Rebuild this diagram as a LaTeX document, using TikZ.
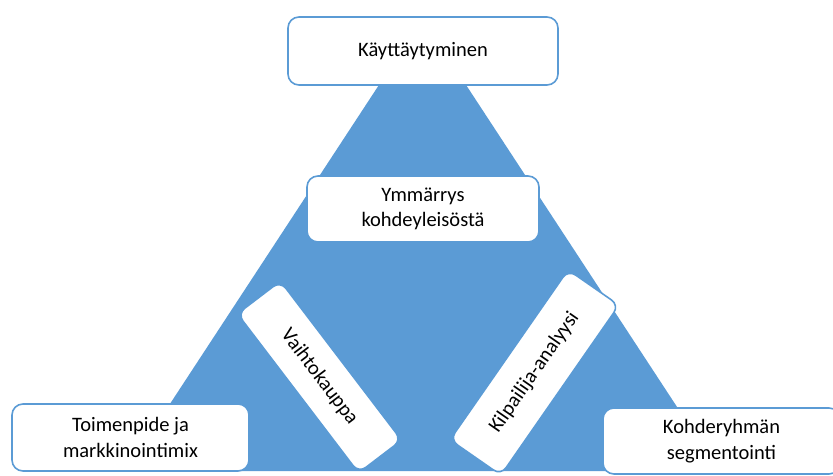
\documentclass[tikz,border=0pt]{standalone}
\usepackage{fontspec}
\setmainfont{Carlito}
\definecolor{officeblue}{RGB}{91,155,213}
\begin{document}
\begin{tikzpicture}[x=1pt,y=-1pt,
  card/.style={draw=officeblue, line width=1.6pt, fill=white, rounded corners=11pt,
    align=center, inner sep=0pt, font=\fontsize{20.5}{25.5}\selectfont},
  tiltcard/.style={card, rounded corners=9pt}]
\useasboundingbox (0,0) rectangle (833,476);
% the blue triangle behind the cards
\coordinate (apex) at (422.5,18.5);
\coordinate (baseL) at (126,471);
\coordinate (baseR) at (719,471);
\fill[officeblue] (apex) -- (baseL) -- (baseR) -- cycle;
% cards
\node[card, minimum width=270pt, minimum height=68pt] (top) at (423,51) {Käyttäytyminen};
\node[card, minimum width=232pt, minimum height=66pt] (mid) at (423,209) {Ymmärrys\\kohdeyleisöstä};
\node[card, minimum width=237pt, minimum height=67pt] (left) at (130.5,437.5) {Toimenpide ja\\markkinointimix};
\node[card, minimum width=237pt, minimum height=66pt] (right) at (721.5,441) {Kohderyhmän\\segmentointi};
\node[tiltcard, minimum width=200pt, minimum height=54pt, rotate=-52.7] (swap) at (319.5,377) {Vaihtokauppa};
\node[tiltcard, minimum width=207pt, minimum height=62pt, rotate=55.2] (rival) at (534.5,372.5) {Kilpailija-analyysi};
\end{tikzpicture}
\end{document}
